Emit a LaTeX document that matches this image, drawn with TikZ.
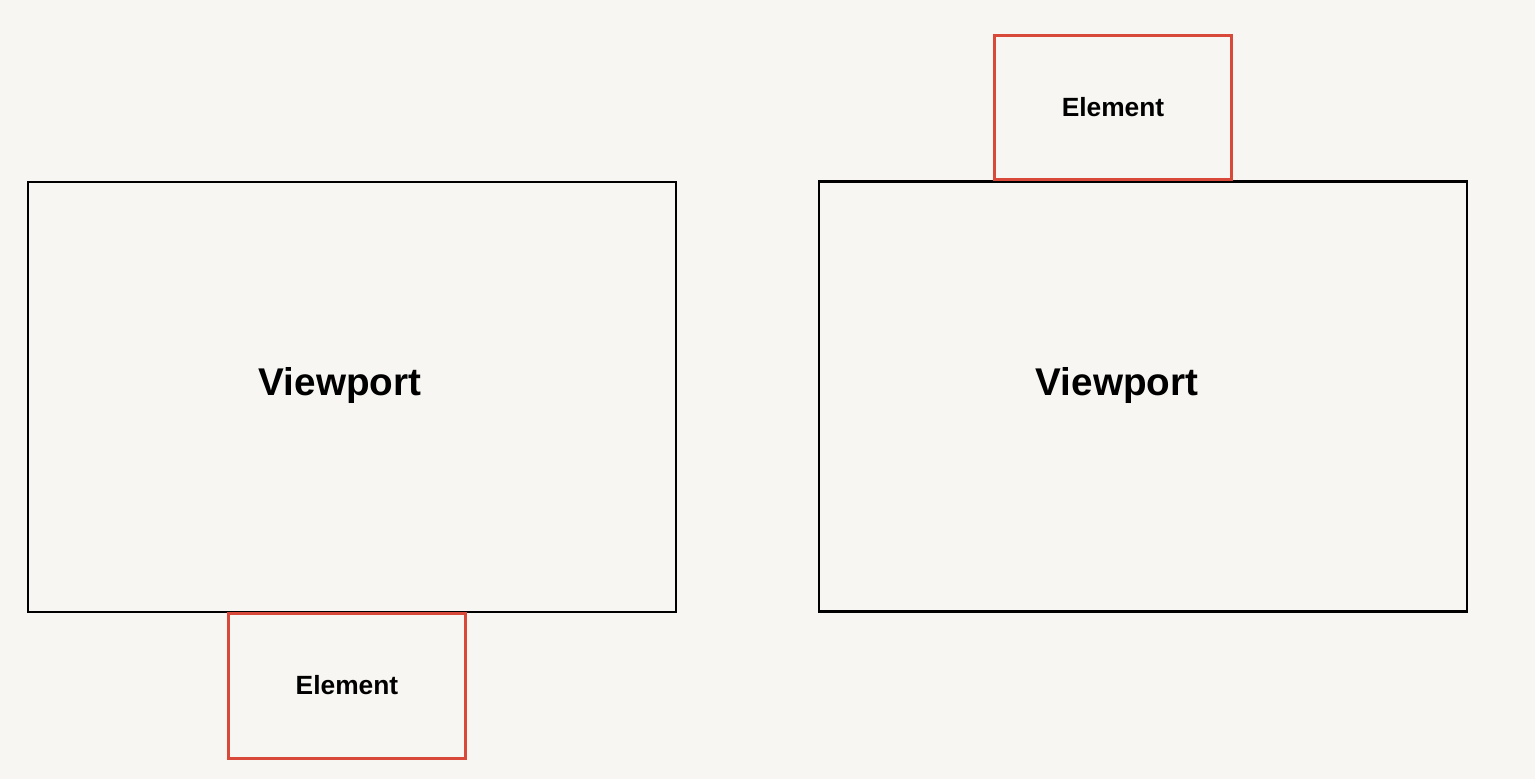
\documentclass[tikz,border=0pt]{standalone}
\usepackage{fontspec}
\setmainfont{Liberation Sans}
\usetikzlibrary{positioning,calc}
\definecolor{paper}{HTML}{F7F6F2}
\definecolor{elred}{HTML}{D9493A}

\begin{document}
\begin{tikzpicture}[
  x=0.02cm, y=-0.02cm,
  vbox/.style={draw=black, line width=0.045cm, minimum width=12.96cm,
              minimum height=8.6cm, inner sep=0pt},
  ebox/.style={draw=elred, line width=0.06cm, minimum width=4.76cm,
              minimum height=2.9cm, inner sep=0pt,
              font=\bfseries\fontsize{15}{18}\selectfont},
  vtext/.style={font=\bfseries\fontsize{22}{26}\selectfont},
]
  % Page
  \fill[paper] (0, 0) rectangle (1535, 779);
  \useasboundingbox (0, 0) rectangle (1535, 779);

  % Element below the viewport
  \node[vbox] (vpl) at (352, 397) {};
  \node[ebox] (ell) at (347, 685.5) {Element};
  \node[vtext] (vpltext) at (340, 385) {Viewport};

  % Element above the viewport
  \node[vbox] (vpr) at (1143, 396.5) {};
  \node[ebox] (elr) at (1113, 107.5) {Element};
  \node[vtext] (vprtext) at (1117, 385) {Viewport};
\end{tikzpicture}
\end{document}
